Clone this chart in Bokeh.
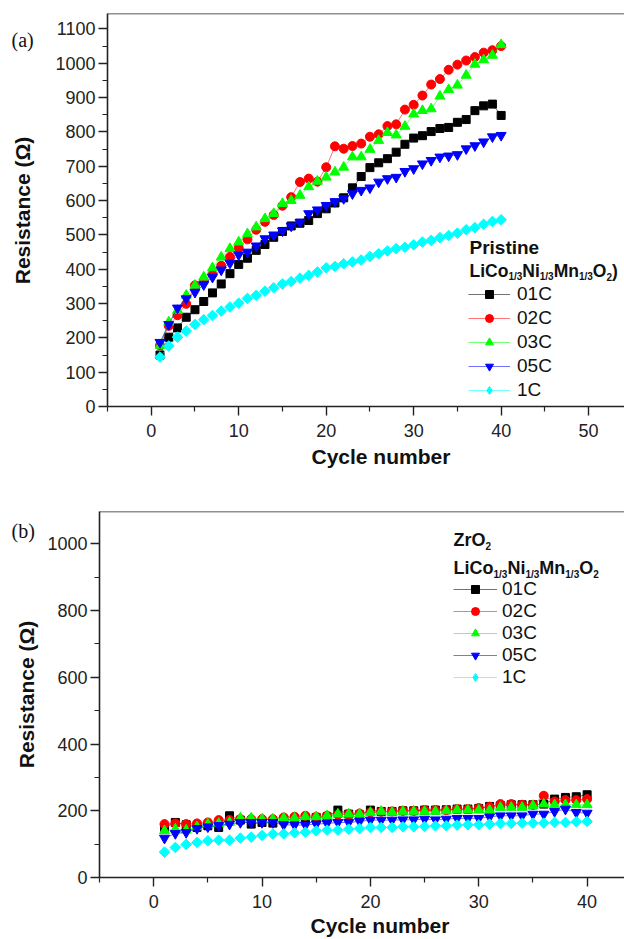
import numpy as np
from bokeh.plotting import figure
from bokeh.layouts import column, row
from bokeh.models import FixedTicker, Label, Legend, LegendItem, Span, Range1d, Title
from bokeh.embed import file_html
from bokeh.resources import INLINE

# ---------------- data ----------------
cycles = list(range(1, 41))
series_names = ["01C", "02C", "03C", "05C", "1C"]

# (a) Pristine LiCo1/3Ni1/3Mn1/3O2
pristine_01C = [150, 202, 229, 260, 282, 306, 331, 357, 387, 414, 432, 455, 472, 493, 510, 526, 534, 542, 562, 576,
                593, 608, 637, 670, 696, 710, 722, 741, 764, 782, 789, 801, 810, 813, 828, 836, 862, 876, 881, 848]
pristine_02C = [178, 235, 266, 299, 353, 365, 385, 410, 436, 462, 487, 515, 538, 558, 585, 610, 654, 664, 655, 697,
                758, 751, 759, 766, 786, 793, 817, 822, 865, 879, 906, 938, 954, 981, 996, 1008, 1018, 1031, 1038, 1050]
pristine_03C = [178, 246, 280, 324, 353, 377, 404, 435, 460, 479, 503, 523, 547, 562, 591, 600, 615, 640, 656, 668,
                683, 697, 727, 727, 749, 775, 798, 791, 816, 852, 862, 867, 904, 923, 936, 965, 997, 1010, 1023, 1054]
pristine_05C = [187, 239, 287, 314, 333, 355, 377, 398, 418, 442, 450, 468, 489, 500, 512, 526, 537, 562, 573, 586,
                597, 606, 620, 630, 637, 654, 664, 668, 685, 693, 707, 717, 727, 730, 734, 751, 760, 771, 786, 790]
pristine_1C = [144, 176, 202, 220, 239, 253, 265, 278, 290, 301, 315, 324, 336, 346, 357, 364, 374, 382, 392, 404,
               408, 416, 421, 427, 437, 445, 453, 460, 464, 471, 479, 484, 492, 498, 505, 515, 521, 531, 539, 544]

# (b) ZrO2-coated LiCo1/3Ni1/3Mn1/3O2
zro2_01C = [150, 165, 158, 150, 155, 150, 185, 172, 160, 165, 163, 172, 175, 178, 180, 182, 202, 190, 188, 202,
            198, 198, 200, 200, 202, 202, 203, 205, 205, 207, 213, 215, 218, 218, 218, 220, 235, 240, 242, 248]
zro2_02C = [160, 162, 160, 162, 165, 172, 172, 175, 175, 175, 175, 180, 182, 185, 182, 185, 188, 190, 192, 195,
            197, 198, 200, 200, 202, 202, 202, 205, 205, 208, 212, 220, 220, 218, 218, 245, 228, 232, 232, 235]
zro2_03C = [140, 145, 142, 152, 160, 162, 165, 178, 178, 175, 175, 178, 178, 182, 182, 185, 190, 190, 190, 195,
            198, 195, 198, 198, 198, 198, 200, 202, 202, 202, 202, 210, 210, 210, 215, 220, 218, 218, 218, 218]
zro2_05C = [118, 132, 135, 147, 152, 156, 160, 165, 165, 165, 165, 158, 157, 157, 160, 162, 165, 165, 168, 172,
            172, 172, 173, 173, 175, 173, 175, 177, 177, 177, 182, 185, 185, 185, 190, 190, 198, 205, 195, 193]
zro2_1C = [76, 90, 99, 105, 110, 112, 112, 118, 121, 126, 130, 131, 134, 136, 140, 142, 142, 145, 147, 150,
           150, 150, 152, 152, 153, 155, 155, 157, 158, 158, 160, 162, 162, 163, 163, 163, 165, 165, 167, 168]

x_major_a = [0, 10, 20, 30, 40, 50]
x_minor_a = [-5, 5, 15, 25, 35, 45]
y_major_a = list(range(0, 1101, 100))
y_minor_a = list(range(50, 1101, 100))
x_major_b = [0, 10, 20, 30, 40]
x_minor_b = [-5, 5, 15, 25, 35]
y_major_b = [0, 200, 400, 600, 800, 1000]
y_minor_b = [100, 300, 500, 700, 900]

# ---------------- style ----------------
colors = ["#000000", "#ff0000", "#00ff00", "#0000ff", "#00ffff"]
markers = ["square", "circle", "triangle", "inverted_triangle", "square"]
msizes = [8, 9, 10, 10, 7.5]
angles = [0, 0, 0, 0, np.pi / 4]
SANS = "Liberation Sans"
SERIF = "Liberation Serif"

# Arial/Liberation Sans Bold advance widths (per 1000 em) for the formula text
BOLD_W = {"L": 611, "i": 278, "C": 722, "o": 611, "N": 722, "M": 833, "n": 611, "O": 778,
          "1": 556, "/": 278, "3": 556, "2": 556, ")": 333, "Z": 611, "r": 389}


def text_w(t, size):
    return sum(BOLD_W[ch] for ch in t) * size / 1000.0


def add_text(p, text, x, y, size, bold=False, font=SANS, baseline="alphabetic", align="left", angle=0):
    p.add_layout(Label(x=x, y=y, x_units="screen", y_units="screen", text=text,
                       text_font=font, text_font_size=f"{size}px", angle=angle,
                       text_font_style="bold" if bold else "normal",
                       text_color="#111", text_baseline=baseline, text_align=align))


def add_formula(p, pieces, x0, y0, main, sub, drop):
    x = x0
    for t, is_sub in pieces:
        s = sub if is_sub else main
        add_text(p, t, x, y0 - drop if is_sub else y0, s, bold=True)
        x += text_w(t, s)


def make_panel(series, xr, yr, xmaj, xmin, ymaj, ymin, width, frame_w, frame_h, bl, bt, bb,
               leg_loc, leg_glyph_w, leg_spacing, leg_standoff, title_offset, title_standoff):
    p = figure(width=width, height=bt + frame_h + bb, frame_width=frame_w, frame_height=frame_h,
               x_range=Range1d(*xr), y_range=Range1d(*yr),
               output_backend="svg", toolbar_location=None,
               min_border_left=bl, min_border_right=0, min_border_top=bt, min_border_bottom=bb)
    p.grid.visible = False
    p.outline_line_color = None
    p.background_fill_color = "white"
    p.border_fill_color = "white"

    items = []
    for name, ys, c, m, s, a in zip(series_names, series, colors, markers, msizes, angles):
        lr = p.line(cycles, ys, line_color=c, line_width=1, line_alpha=0.55)
        sr = p.scatter(cycles, ys, marker=m, size=s, angle=a, fill_color=c, line_color=c)
        if a != 0:
            # legend-only diamond symbol (the legend ignores marker rotation)
            sr = p.scatter(x=[np.nan], y=[np.nan], marker="diamond", size=12, fill_color=c, line_color=c)
        items.append(LegendItem(label=name, renderers=[lr, sr]))

    leg = Legend(items=items, location=leg_loc, orientation="vertical",
                 glyph_width=leg_glyph_w, glyph_height=20, label_height=20,
                 spacing=leg_spacing, padding=0, margin=0, label_standoff=leg_standoff,
                 border_line_color=None, background_fill_alpha=0,
                 label_text_font=SANS, label_text_font_size="19px", label_text_color="#111")
    p.add_layout(leg)

    for ax in (p.xaxis[0], p.yaxis[0]):
        ax.axis_line_width = 1.6
        ax.axis_line_color = "#222"
        ax.major_tick_line_color = "#222"
        ax.minor_tick_line_color = "#222"
        ax.major_tick_line_width = 1.4
        ax.minor_tick_line_width = 1.2
        ax.major_tick_in = 0
        ax.major_tick_out = 9
        ax.minor_tick_in = 0
        ax.minor_tick_out = 5
        ax.major_label_text_font = SANS
        ax.major_label_text_font_size = "18px"
        ax.major_label_text_color = "#222"

    p.xaxis.ticker = FixedTicker(ticks=xmaj, minor_ticks=xmin)
    p.yaxis.ticker = FixedTicker(ticks=ymaj, minor_ticks=ymin)
    p.xaxis.major_label_standoff = 8
    p.yaxis.major_label_standoff = 3

    p.add_layout(Title(text="Cycle number", align="left", offset=title_offset, standoff=title_standoff,
                       text_font=SANS, text_font_size="21px", text_font_style="bold",
                       text_color="#111"), "below")

    p.add_layout(Span(location=yr[1], dimension="width", line_color="#222", line_width=1.6))
    return p


def make_side(width, frame_h, bt, bb, tag, tag_x, tag_y, ylab_x, ylab_y):
    # narrow text column whose frame is aligned with the main panel's frame
    f = figure(width=width, height=bt + frame_h + bb, frame_width=width, frame_height=frame_h,
               x_range=Range1d(0, 1), y_range=Range1d(0, 1),
               x_axis_type=None, y_axis_type=None, output_backend="svg", toolbar_location=None,
               min_border_left=0, min_border_right=0, min_border_top=bt, min_border_bottom=bb)
    f.outline_line_color = None
    f.border_fill_color = "white"
    f.background_fill_color = "white"
    add_text(f, tag, tag_x, tag_y, 20, font=SERIF)
    add_text(f, "Resistance (Ω)", ylab_x, ylab_y, 21, bold=True, baseline="middle",
             align="center", angle=np.pi / 2)
    return f


# ---------------- panel (a) ----------------
pa = make_panel([pristine_01C, pristine_02C, pristine_03C, pristine_05C, pristine_1C],
                (-5, 54.1), (0, 1145), x_major_a, x_minor_a, y_major_a, y_minor_a,
                579, 517, 393, 62, 13, 64, (361, 5), 42, 2, 7, 204, 6)
add_text(pa, "Pristine", 362, 159, 19, bold=True)
add_formula(pa, [("LiCo", False), ("1/3", True), ("Ni", False), ("1/3", True), ("Mn", False),
                 ("1/3", True), ("O", False), ("2", True), (")", False)], 362, 136, 17.5, 10, 6)
sa = make_side(45, 393, 13, 64, "(a)", 11, 367, 22, 196)

# ---------------- panel (b) ----------------
pb = make_panel([zro2_01C, zro2_02C, zro2_03C, zro2_05C, zro2_1C],
                (-5, 43.45), (0, 1097), x_major_b, x_minor_b, y_major_b, y_minor_b,
                582, 525, 366, 57, 41, 62, (354, 189), 44, 0, 5, 211, 3)
add_formula(pb, [("ZrO", False), ("2", True)], 354, 337.5, 18, 10, 6)
add_formula(pb, [("LiCo", False), ("1/3", True), ("Ni", False), ("1/3", True), ("Mn", False),
                 ("1/3", True), ("O", False), ("2", True)], 354, 309.5, 18, 10, 6)
sb = make_side(42, 366, 41, 62, "(b)", 11, 347, 26, 183)

layout = column(row(sa, pa, spacing=0), row(sb, pb, spacing=0), spacing=0)
open("out.html", "w").write(file_html(layout, INLINE))
